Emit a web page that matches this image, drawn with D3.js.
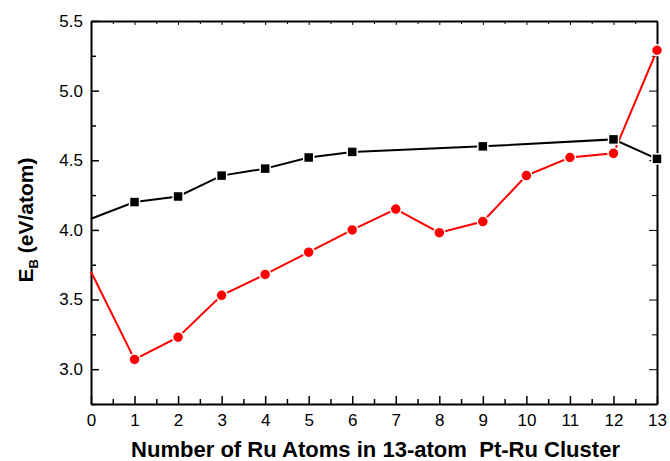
<!DOCTYPE html>
<html><head><meta charset="utf-8">
<script src="https://cdn.jsdelivr.net/npm/d3@7"></script>
<style>body{margin:0;background:#fff}svg{display:block}</style>
</head><body>
<script>
const xValues = [0,1,2,3,4,5,6,7,8,9,10,11,12,13];
const blackX = [0,1,2,3,4,5,6,9,12,13];
const blackY = [4.08,4.20,4.24,4.39,4.44,4.52,4.56,4.60,4.65,4.51];
const redX = [0,1,2,3,4,5,6,7,8,9,10,11,12,13];
const redY = [3.70,3.07,3.23,3.53,3.68,3.84,4.00,4.15,3.98,4.06,4.39,4.52,4.55,5.29];
const yTicks = [3.0,3.5,4.0,4.5,5.0,5.5];

const W=670,H=461, L=91,R=657,T=21,B=404;
const svg=d3.select("body").append("svg").attr("width",W).attr("height",H);
const x=d3.scaleLinear().domain([0,13]).range([L,R]);
const y=d3.scaleLinear().domain([2.75,5.5]).range([B,T]);
const font="Liberation Sans, Arial, sans-serif";

const minorX=d3.range(0,13.01,0.5).filter(v=>v%1!==0);
const minorY=d3.range(2.75,5.51,0.25).filter(v=>Math.abs(v*2-Math.round(v*2))>1e-6);

// bottom axis
const gb=svg.append("g").attr("transform",`translate(0,${B})`)
 .call(d3.axisBottom(x).tickValues(xValues).tickFormat(d3.format("d")).tickSizeInner(-8).tickSizeOuter(0).tickPadding(10));
gb.selectAll(".tick line").attr("stroke","#000").attr("stroke-width",1.5);
svg.append("g").attr("transform",`translate(0,${B})`)
 .call(d3.axisBottom(x).tickValues(minorX).tickFormat("").tickSizeInner(-5).tickSizeOuter(0))
 .call(g=>g.select(".domain").remove()).selectAll(".tick line").attr("stroke-width",1.5);
// top axis
svg.append("g").attr("transform",`translate(0,${T})`)
 .call(d3.axisTop(x).tickValues(xValues).tickFormat("").tickSizeInner(-4).tickSizeOuter(0));
svg.append("g").attr("transform",`translate(0,${T})`)
 .call(d3.axisTop(x).tickValues(minorX).tickFormat("").tickSizeInner(-3).tickSizeOuter(0))
 .call(g=>g.select(".domain").remove());
// left axis
const gl=svg.append("g").attr("transform",`translate(${L},0)`)
 .call(d3.axisLeft(y).tickValues(yTicks).tickFormat(d3.format(".1f")).tickSizeInner(-8).tickSizeOuter(0).tickPadding(8));
gl.selectAll(".tick line").attr("stroke-width",1.5);
svg.append("g").attr("transform",`translate(${L},0)`)
 .call(d3.axisLeft(y).tickValues(minorY).tickFormat("").tickSizeInner(-5).tickSizeOuter(0))
 .call(g=>g.select(".domain").remove()).selectAll(".tick line").attr("stroke-width",1.5);
// right axis
svg.append("g").attr("transform",`translate(${R},0)`)
 .call(d3.axisRight(y).tickValues(yTicks).tickFormat("").tickSizeInner(-8).tickSizeOuter(0));
svg.append("g").attr("transform",`translate(${R},0)`)
 .call(d3.axisRight(y).tickValues(minorY).tickFormat("").tickSizeInner(-5).tickSizeOuter(0))
 .call(g=>g.select(".domain").remove());

svg.selectAll(".domain").attr("stroke","#000").attr("stroke-width",2);
svg.selectAll(".tick text").attr("font-family",font).attr("font-size",17).attr("fill","#000");

const line=d3.line().x(d=>x(d[0])).y(d=>y(d[1]));
const bData=blackX.map((v,i)=>[v,blackY[i]]);
const rData=redX.map((v,i)=>[v,redY[i]]);

svg.append("path").datum(bData).attr("d",line).attr("fill","none").attr("stroke","#000").attr("stroke-width",2);
svg.append("path").datum(rData).attr("d",line).attr("fill","none").attr("stroke","#ff0000").attr("stroke-width",2);

svg.append("g").selectAll("rect").data(bData.filter(d=>d[0]>0)).join("rect")
 .attr("x",d=>x(d[0])-5).attr("y",d=>y(d[1])-5).attr("width",10).attr("height",10)
 .attr("fill","#000").attr("stroke","#fff").attr("stroke-width",1.5);
svg.append("g").selectAll("circle").data(rData.filter(d=>d[0]>0)).join("circle")
 .attr("cx",d=>x(d[0])).attr("cy",d=>y(d[1])).attr("r",5.5)
 .attr("fill","#ff0000").attr("stroke","#fff").attr("stroke-width",1.5);

svg.append("text").attr("x",131).attr("y",457).attr("text-anchor","start")
 .attr("font-family",font).attr("font-weight","bold").attr("font-size",22)
 .attr("textLength",489).attr("lengthAdjust","spacingAndGlyphs")
 .text("Number of Ru Atoms in 13-atom\u00a0 Pt-Ru Cluster");
const yt=svg.append("text").attr("transform",`translate(33,220) rotate(-90)`).attr("text-anchor","middle")
 .attr("font-family",font).attr("font-weight","bold").attr("font-size",21);
yt.append("tspan").text("E");
yt.append("tspan").attr("font-size",13).attr("dy",5).text("B");
yt.append("tspan").attr("dy",-5).text(" (eV/atom)");
</script>
</body></html>
